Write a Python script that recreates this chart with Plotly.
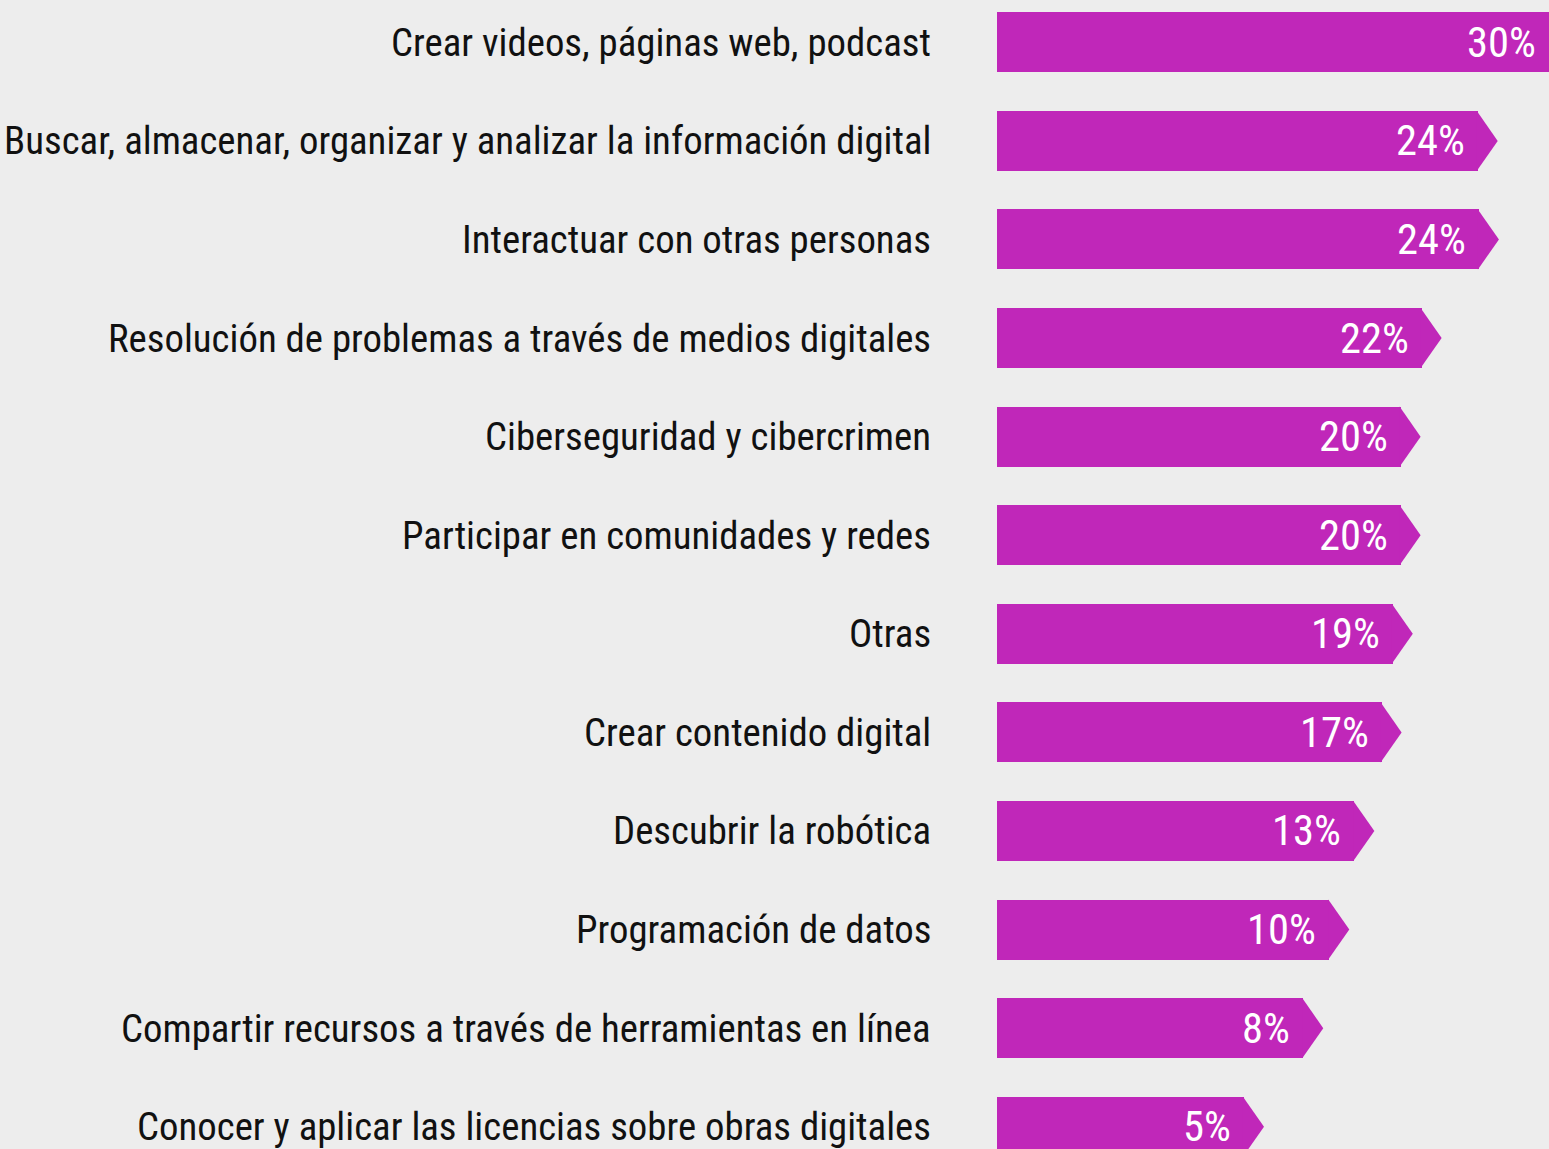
import plotly.graph_objects as go

categories = [
    "Crear videos, páginas web, podcast",
    "Buscar, almacenar, organizar y analizar la información digital",
    "Interactuar con otras personas",
    "Resolución de problemas a través de medios digitales",
    "Ciberseguridad y cibercrimen",
    "Participar en comunidades y redes",
    "Otras",
    "Crear contenido digital",
    "Descubrir la robótica",
    "Programación de datos",
    "Compartir recursos a través de herramientas en línea",
    "Conocer y aplicar las licencias sobre obras digitales",
]
pct_values = [30, 24, 24, 22, 20, 20, 19, 17, 13, 10, 8, 5]
# drawn bar lengths (the infographic is not to scale)
bar_len = [27.65, 24.0, 24.06, 21.2, 20.15, 20.15, 19.76, 19.2, 17.84, 16.59, 15.29, 12.33]

BAR_COLOR = "#C027B9"
BG = "#EDEDED"
FONT = "Roboto Condensed, Liberation Sans Narrow, sans-serif"

pos = list(range(len(categories)))
bar_h = 0.609
tip = 1.0
X_MAX = 27.56

fig = go.Figure()
fig.add_trace(go.Bar(
    x=bar_len, y=pos, orientation="h", width=bar_h,
    marker=dict(color=BAR_COLOR, line=dict(width=0)),
    hoverinfo="skip", showlegend=False,
))
for L, p in zip(bar_len, pos):
    fig.add_trace(go.Scatter(
        x=[L - 0.05, L + tip, L - 0.05, L - 0.05],
        y=[p - bar_h / 2, p, p + bar_h / 2, p - bar_h / 2],
        mode="lines", fill="toself", fillcolor=BAR_COLOR,
        line=dict(width=0, color=BAR_COLOR),
        hoverinfo="skip", showlegend=False,
    ))

# value labels inside the bar ends
for L, p, v in zip(bar_len, pos, pct_values):
    fig.add_annotation(
        x=min(L, X_MAX), y=p, text=f"{v}%", showarrow=False,
        xanchor="right", yanchor="middle", xshift=-11,
        font=dict(family=FONT, size=42.5, color="white"),
    )

# category labels to the left of the bars
for c, p in zip(categories, pos):
    fig.add_annotation(
        x=0, xref="paper", y=p, text=c, showarrow=False,
        xanchor="right", yanchor="middle", xshift=-64,
        font=dict(family=FONT, size=38.8, color="#111111"),
    )

fig.update_layout(
    width=1549, height=1149,
    margin=dict(l=997, r=0, t=0, b=0),
    paper_bgcolor=BG, plot_bgcolor=BG,
    bargap=0,
    xaxis=dict(range=[0, X_MAX], visible=False, fixedrange=True),
    yaxis=dict(range=[11.226, -0.429], visible=False, fixedrange=True),
)

fig.write_html("out.html", config={"displayModeBar": False},
               post_script="document.body.style.margin='0';")
